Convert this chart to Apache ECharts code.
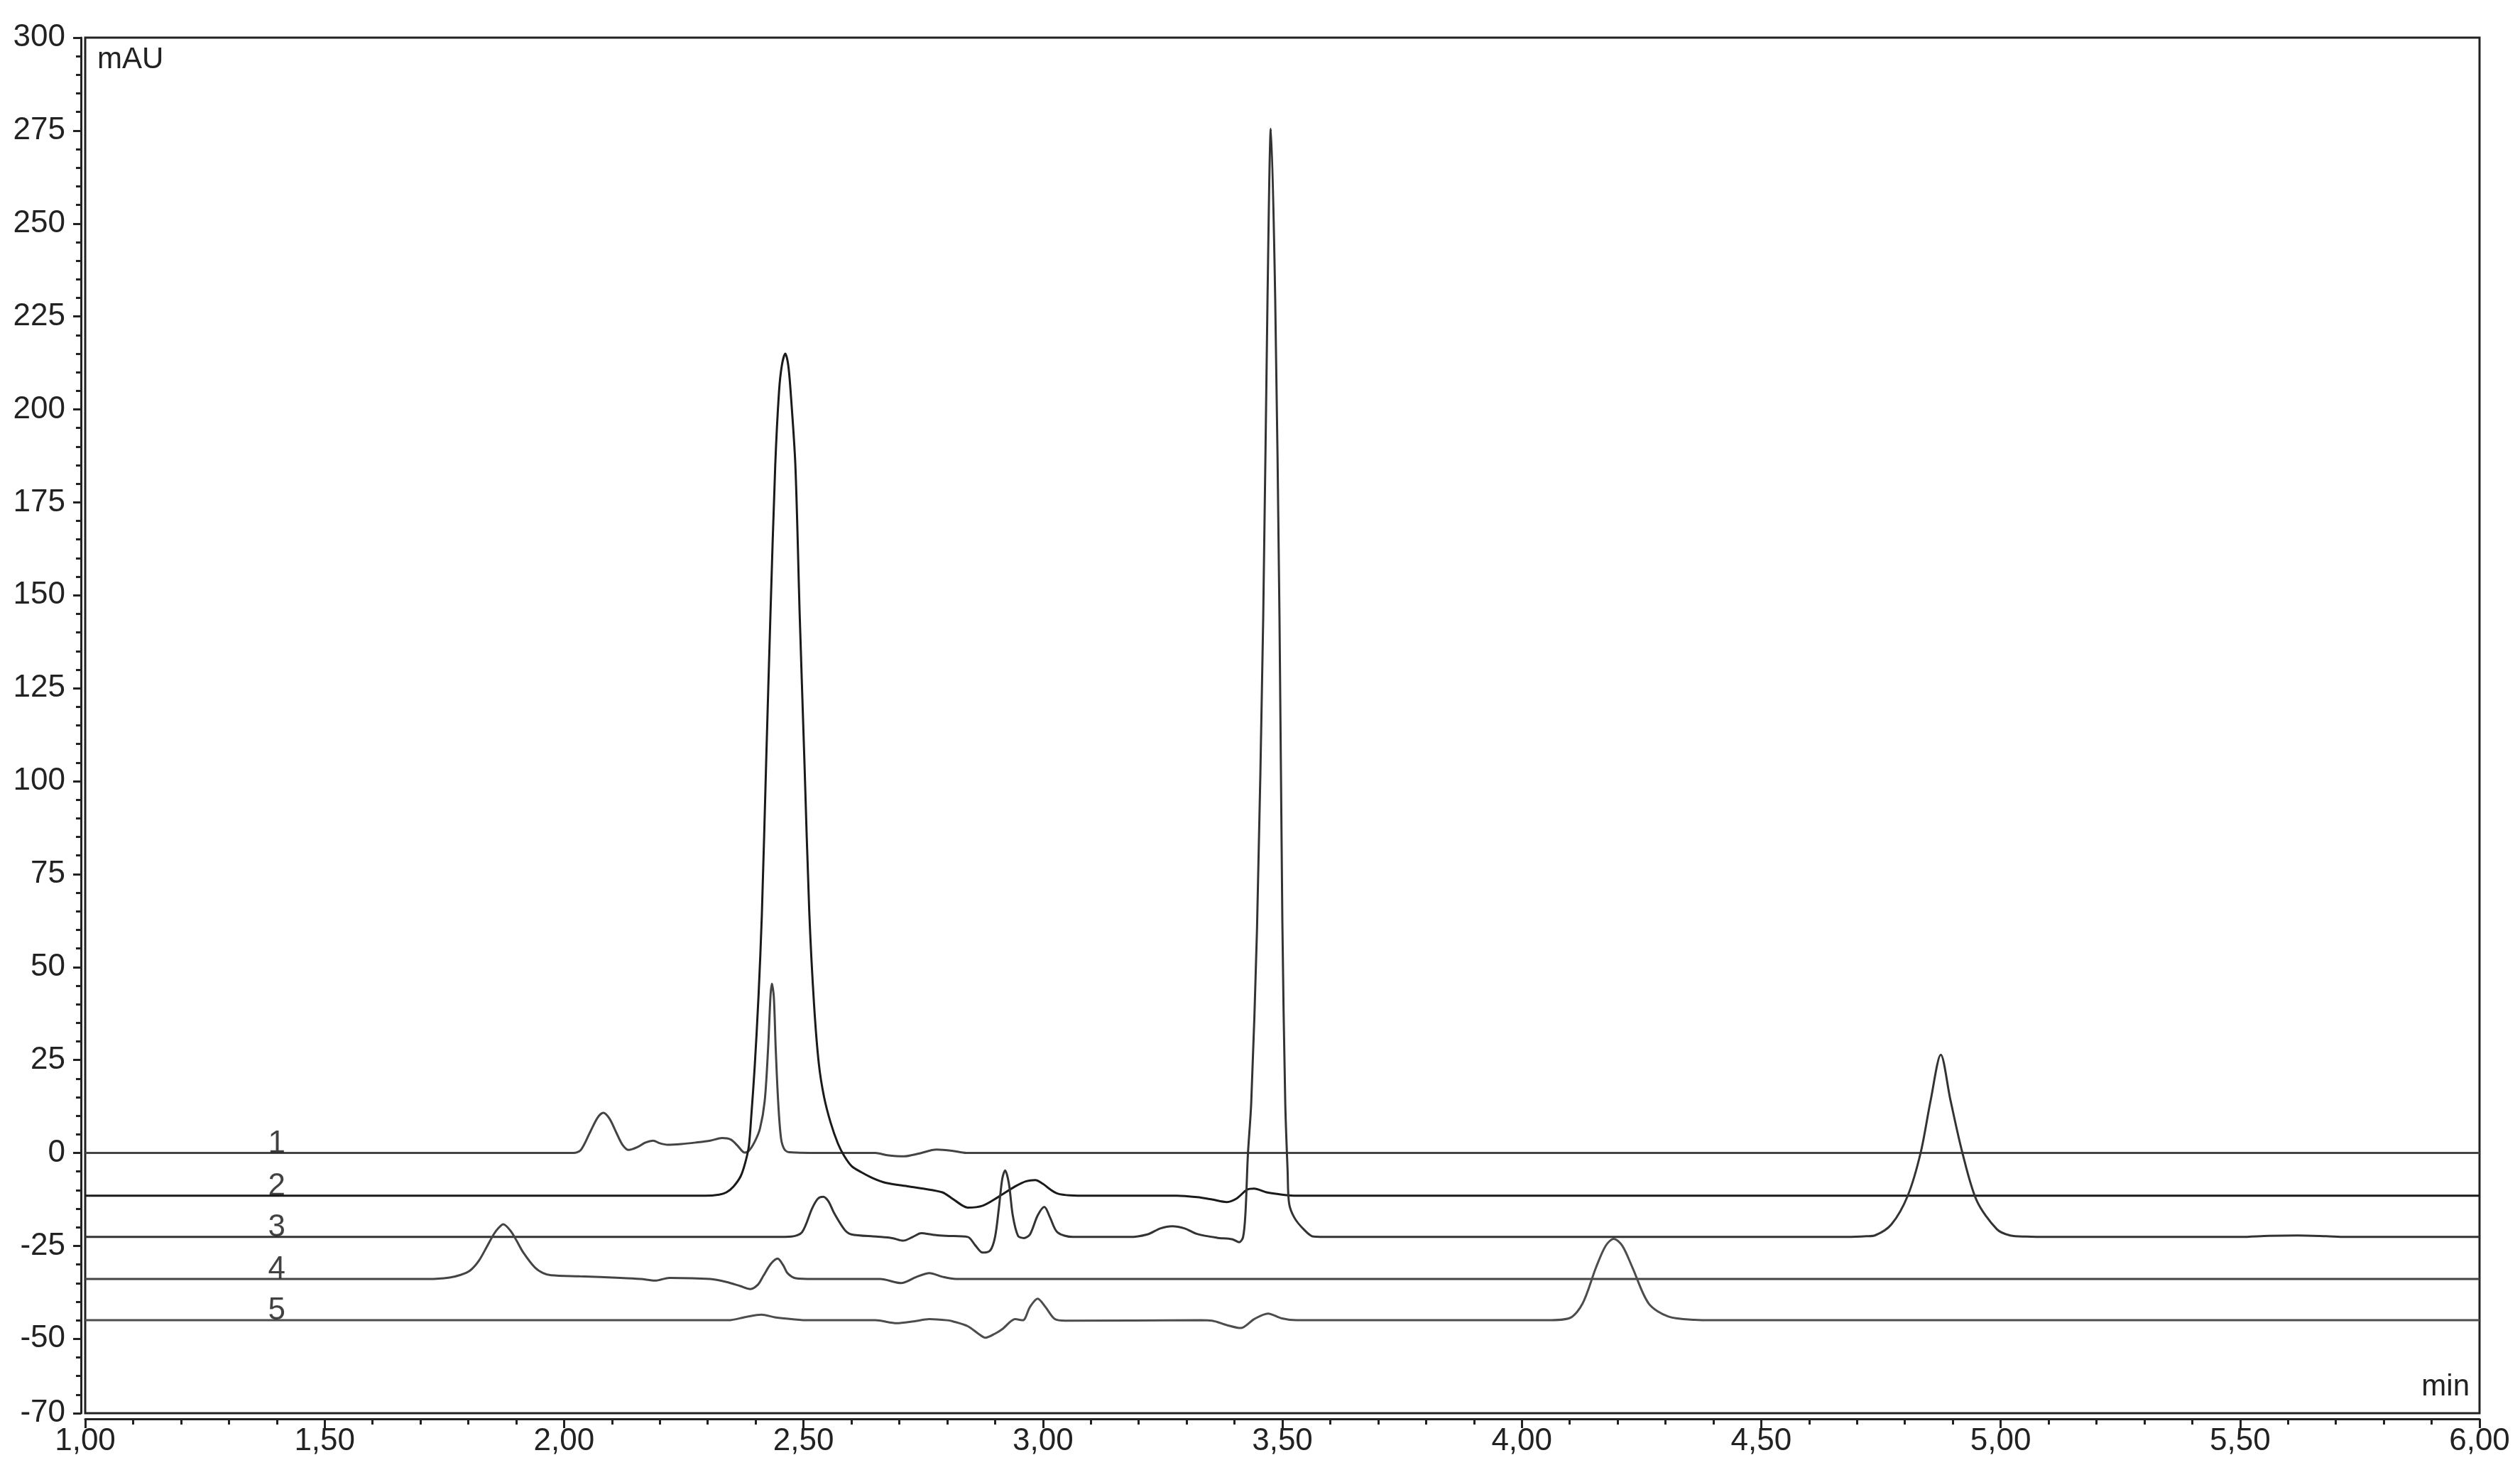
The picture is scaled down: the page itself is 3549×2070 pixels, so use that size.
<!DOCTYPE html>
<html>
<head>
<meta charset="utf-8">
<title>Chromatogram overlay</title>
<script src="https://cdn.jsdelivr.net/npm/echarts@6/dist/echarts.min.js"></script>
<style>
	html, body { margin: 0; padding: 0; background: #ffffff; }
	#chart { width: 3549px; height: 2070px; }
</style>
</head>
<body>
<div id="chart"></div>
<script>
var FONT = '"Liberation Sans", Arial, Helvetica, sans-serif';
var INK = '#222222';

// y axis labels (mAU) and x range (min)
var yLabelValues = [-70, -50, -25, 0, 25, 50, 75, 100, 125, 150, 175, 200, 225, 250, 275, 300];
var xMin = 1.0, xMax = 6.0, xStep = 0.5;

// trace names and where their numbers sit
var traceNames = ['1', '2', '3', '4', '5'];
var traceBaselines = [0, -11.5, -22.6, -33.9, -45];
var labelTime = 1.40;

// each trace: [time (min), signal (mAU)]
var trace1 = [
	[1.00, 0], [1.98, 0], [2.02, 0], [2.035, 0.8], [2.054, 5.5], [2.07, 9.5], [2.082, 10.8],
	[2.095, 9.2], [2.109, 5.5], [2.122, 2.2], [2.135, 0.8], [2.152, 1.5], [2.17, 2.8], [2.186, 3.3],
	[2.2, 2.6], [2.216, 2.2], [2.245, 2.4], [2.275, 2.8], [2.305, 3.3], [2.33, 4.0], [2.348, 3.6],
	[2.362, 2.0], [2.377, 0.1], [2.386, 0.6], [2.398, 3.0], [2.409, 6.5], [2.419, 14], [2.426, 28],
	[2.431, 42], [2.434, 45.5], [2.438, 42], [2.442, 28], [2.447, 14], [2.453, 4], [2.46, 1],
	[2.47, 0.2], [2.55, 0], [2.65, 0], [2.675, -0.6], [2.71, -0.9], [2.74, -0.2], [2.778, 0.9],
	[2.81, 0.6], [2.84, 0], [2.9, 0], [6.00, 0]
];
var trace2 = [
	[1.00, -11.5], [2.25, -11.5], [2.294, -11.5], [2.324, -11.2], [2.339, -10.6], [2.354, -9.0],
	[2.369, -6.2], [2.379, -2.3], [2.386, 2], [2.391, 10], [2.398, 23], [2.406, 42], [2.413, 64],
	[2.422, 105], [2.431, 145], [2.441, 185], [2.449, 205], [2.455, 212], [2.462, 215], [2.468, 212],
	[2.473, 205], [2.483, 185], [2.492, 145], [2.502, 105], [2.512, 65], [2.522, 40], [2.532, 24],
	[2.543, 15], [2.557, 8], [2.572, 2.5], [2.585, -0.8], [2.601, -3.6], [2.621, -5.2], [2.645, -6.8],
	[2.671, -8.0], [2.72, -9.0], [2.75, -9.6], [2.79, -10.6], [2.81, -12.2], [2.83, -14.0],
	[2.843, -14.7], [2.874, -14.2], [2.906, -11.9], [2.942, -9.0], [2.965, -7.6], [2.984, -7.3],
	[3.0, -8.3], [3.015, -9.8], [3.03, -10.9], [3.056, -11.4], [3.1, -11.5], [3.28, -11.5],
	[3.322, -11.9], [3.353, -12.5], [3.384, -13.2], [3.405, -12.2], [3.426, -9.9], [3.441, -9.6],
	[3.467, -10.6], [3.499, -11.2], [3.53, -11.5], [6.00, -11.5]
];
var trace3 = [
	[1.00, -22.6], [2.44, -22.6], [2.475, -22.5], [2.497, -21.3], [2.518, -14.9], [2.53, -12.3],
	[2.541, -11.8], [2.552, -13], [2.564, -16.2], [2.586, -20.7], [2.60, -21.9], [2.652, -22.5],
	[2.685, -22.9], [2.708, -23.6], [2.728, -22.6], [2.746, -21.6], [2.77, -22.0], [2.797, -22.3],
	[2.843, -22.6], [2.859, -24.9], [2.874, -26.8], [2.89, -26.2], [2.9, -22.6], [2.908, -14.8],
	[2.915, -7.0], [2.921, -4.7], [2.929, -8.3], [2.937, -16.8], [2.948, -22.3], [2.96, -22.9],
	[2.973, -21.9], [2.989, -16.8], [3.003, -14.5], [3.015, -17.4], [3.03, -21.3], [3.062, -22.6],
	[3.18, -22.6], [3.218, -21.9], [3.245, -20.3], [3.27, -19.7], [3.296, -20.3], [3.322, -21.8],
	[3.363, -22.8], [3.395, -23.2], [3.41, -24.0], [3.418, -22.6], [3.423, -16], [3.428, -0.5],
	[3.435, 13.6], [3.447, 60], [3.46, 144], [3.469, 230], [3.476, 275.5], [3.485, 230], [3.494, 144],
	[3.5, 62], [3.506, 13.6], [3.511, -5], [3.514, -13.5], [3.525, -17.4], [3.545, -20.6],
	[3.565, -22.5], [3.6, -22.6], [4.68, -22.6], [4.72, -22.4], [4.738, -22.15], [4.772, -19.2],
	[4.806, -11.5], [4.833, 0.1], [4.854, 14.3], [4.875, 26.4], [4.895, 14.3], [4.92, 0.1],
	[4.95, -12.8], [4.992, -20.5], [5.02, -22.2], [5.053, -22.5], [5.1, -22.6], [5.5, -22.6],
	[5.56, -22.3], [5.62, -22.2], [5.68, -22.4], [5.72, -22.6], [6.00, -22.6]
];
var trace4 = [
	[1.00, -33.9], [1.68, -33.9], [1.718, -33.9], [1.761, -33.5], [1.784, -32.8], [1.804, -31.6],
	[1.822, -29], [1.838, -25.4], [1.853, -21.9], [1.863, -20.2], [1.873, -19.2], [1.888, -20.9],
	[1.9, -23.4], [1.914, -26.6], [1.939, -30.8], [1.956, -32.3], [1.973, -32.9], [2.033, -33.2],
	[2.118, -33.6], [2.16, -33.9], [2.19, -34.35], [2.22, -33.6], [2.305, -33.9], [2.339, -34.7],
	[2.368, -35.8], [2.389, -36.6], [2.405, -35.4], [2.416, -33.1], [2.432, -29.8], [2.446, -28.4],
	[2.458, -30.3], [2.467, -32.4], [2.484, -33.7], [2.52, -33.9], [2.66, -33.9], [2.704, -35.0],
	[2.735, -33.4], [2.763, -32.3], [2.79, -33.3], [2.818, -33.9], [6.00, -33.9]
];
var trace5 = [
	[1.00, -45], [2.3, -45], [2.343, -45], [2.38, -44.1], [2.412, -43.5], [2.44, -44.2],
	[2.459, -44.5], [2.505, -45], [2.65, -45], [2.695, -45.8], [2.73, -45.3], [2.763, -44.7],
	[2.8, -45.0], [2.812, -45.3], [2.843, -46.6], [2.865, -48.6], [2.88, -49.7], [2.9, -48.6],
	[2.916, -47.3], [2.942, -44.7], [2.958, -45], [2.973, -41.4], [2.989, -39.2], [3.005, -41.4],
	[3.025, -44.7], [3.046, -45.1], [3.33, -45.0], [3.353, -45.1], [3.384, -46.3], [3.413, -47.1],
	[3.441, -44.7], [3.47, -43.2], [3.499, -44.5], [3.53, -45.0], [4.0, -45], [4.053, -45],
	[4.1, -44.4], [4.127, -40.5], [4.155, -30.8], [4.175, -25], [4.192, -23.1], [4.21, -25],
	[4.231, -30.8], [4.265, -40.5], [4.306, -44.0], [4.361, -44.9], [4.4, -45], [6.00, -45]
];

var traces = [trace1, trace2, trace3, trace4, trace5];
var traceColors = ['#444444', '#1a1a1a', '#333333', '#444444', '#4d4d4d'];

// minor ticks on the y axis, every 5 mAU
var yMinorTicks = [];
for (var v = -70; v <= 300; v += 5) {
	yMinorTicks.push(v);
}

function commaDecimal(val) {
	return val.toFixed(2).replace('.', ',');
}

var series = [];
for (var i = 0; i < traces.length; i++) {
	series.push({
		name: traceNames[i],
		type: 'line',
		data: traces[i],
		showSymbol: false,
		smooth: 0.3,
		lineStyle: { color: traceColors[i], width: 3 },
		z: 3
	});
}

// numbers 1..5 sitting on the baselines
var labelData = [];
for (var j = 0; j < traceNames.length; j++) {
	labelData.push({
		value: [labelTime, traceBaselines[j]],
		label: { show: true, formatter: traceNames[j] }
	});
}
series.push({
	type: 'scatter',
	data: labelData,
	symbolSize: 2,
	itemStyle: { color: 'rgba(0,0,0,0)' },
	silent: true,
	label: {
		show: true,
		position: 'top',
		distance: 0,
		offset: [0, 10],
		fontSize: 44,
		fontFamily: FONT,
		color: '#111111'
	},
	z: 5
});

var option = {
	animation: false,
	backgroundColor: '#ffffff',
	grid: {
		left: 120,
		right: 57,
		top: 53,
		bottom: 80,
		show: true,
		borderColor: INK,
		borderWidth: 3,
		outerBoundsMode: 'none'
	},
	xAxis: {
		type: 'value',
		min: xMin,
		max: xMax,
		interval: xStep,
		offset: 8,
		axisLine: { show: true, onZero: false, lineStyle: { color: INK, width: 3 } },
		axisTick: { show: true, length: 13, lineStyle: { color: INK, width: 3 } },
		minorTick: { show: true, splitNumber: 5, length: 8, lineStyle: { color: INK, width: 3 } },
		axisLabel: {
			margin: 10,
			fontSize: 44,
			fontFamily: FONT,
			color: INK,
			showMinLabel: true,
			showMaxLabel: true,
			formatter: commaDecimal
		},
		splitLine: { show: false }
	},
	yAxis: [
		{
			type: 'value',
			min: -70,
			max: 300,
			position: 'left',
			offset: 6,
			axisLine: { show: true, onZero: false, lineStyle: { color: INK, width: 3 } },
			axisTick: { show: true, length: 11, customValues: yLabelValues, lineStyle: { color: INK, width: 3 } },
			axisLabel: {
				customValues: yLabelValues,
				margin: 22,
				fontSize: 44,
				fontFamily: FONT,
				color: INK
			},
			splitLine: { show: false }
		},
		{
			type: 'value',
			min: -70,
			max: 300,
			position: 'left',
			offset: 6,
			axisLine: { show: false },
			axisTick: { show: true, length: 7, customValues: yMinorTicks, lineStyle: { color: INK, width: 3 } },
			axisLabel: { show: false },
			splitLine: { show: false }
		}
	],
	graphic: [
		{
			type: 'text',
			left: 137,
			top: 63,
			style: { text: 'mAU', font: '42px ' + FONT, fill: INK }
		},
		{
			type: 'text',
			right: 71,
			top: 1932,
			style: { text: 'min', font: '42px ' + FONT, fill: INK }
		}
	],
	series: series
};

var chart = echarts.init(document.getElementById('chart'));
chart.setOption(option);
</script>
</body>
</html>
